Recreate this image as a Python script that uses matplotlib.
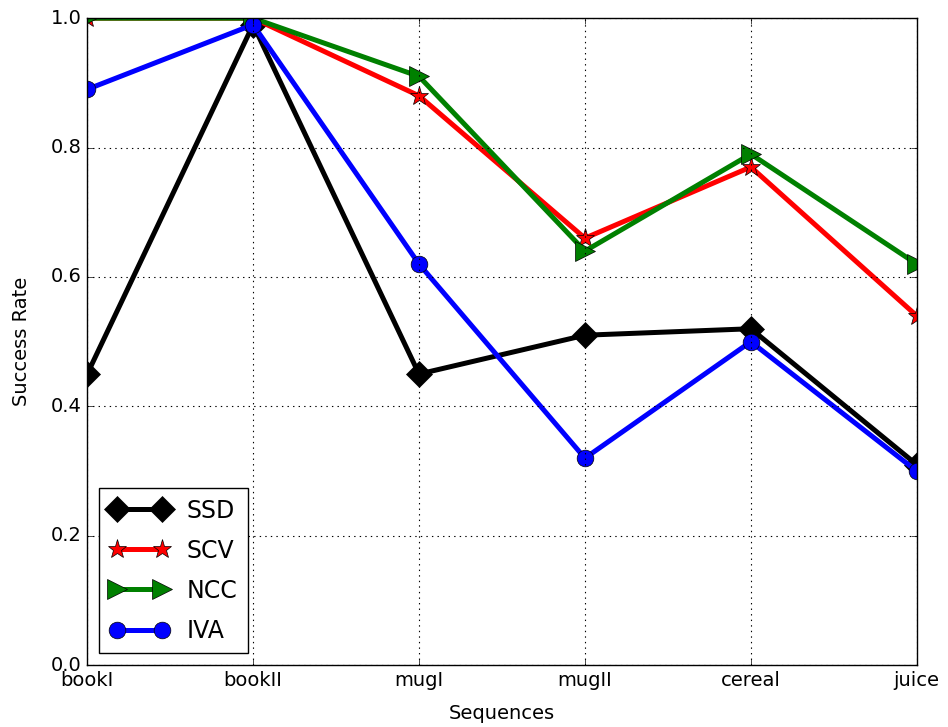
import matplotlib
matplotlib.use("Agg")
import matplotlib.pyplot as plt

# sequences and success rates per tracker
sequences = ["bookI", "bookII", "mugI", "mugII", "cereal", "juice"]
ssd = [0.45, 0.99, 0.45, 0.51, 0.52, 0.31]
scv = [1.00, 1.00, 0.88, 0.66, 0.77, 0.54]
ncc = [1.00, 1.00, 0.91, 0.64, 0.79, 0.62]
iva = [0.89, 0.99, 0.62, 0.32, 0.50, 0.30]

plt.style.use("classic")
plt.rcParams["font.family"] = "DejaVu Sans"

fig = plt.figure(figsize=(9.48, 7.27), dpi=100, facecolor="white")
ax = fig.add_axes([0.092, 0.085, 0.875, 0.89])

x = list(range(len(sequences)))
ax.plot(x, ssd, color="k", marker="D", markersize=13, lw=3.6, mec="k", label="SSD")
ax.plot(x, scv, color="r", marker="*", markersize=14, lw=3.6, mec="k", mew=0.5, label="SCV")
ax.plot(x, ncc, color="g", marker=">", markersize=14, lw=3.6, mec="k", mew=0.5, label="NCC")
ax.plot(x, iva, color="b", marker="o", markersize=12, lw=3.6, mec="k", mew=0.5, label="IVA")

ax.set_xlim(0, 5)
ax.set_ylim(0, 1.0)
ax.set_xticks(x)
ax.set_xticklabels(sequences)
ax.set_yticks([0.0, 0.2, 0.4, 0.6, 0.8, 1.0])
ax.tick_params(labelsize=14)
ax.grid(True, color="k", linestyle=":", lw=0.8)

ax.set_xlabel("Sequences", fontsize=14, labelpad=10)
ax.set_ylabel("Success Rate", fontsize=14, labelpad=14)

ax.legend(loc="lower left", numpoints=2, fontsize=17, handlelength=2.5,
          borderpad=0.45, labelspacing=0.68, handletextpad=0.75)

fig.savefig("out.png", dpi=100, facecolor="white")
